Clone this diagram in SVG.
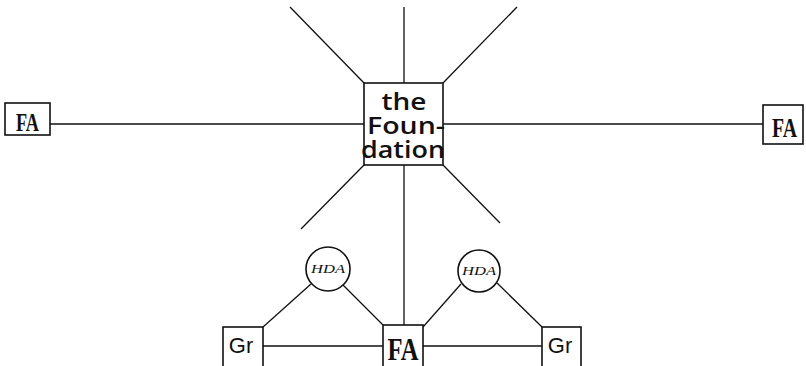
<svg xmlns="http://www.w3.org/2000/svg" width="806" height="366" viewBox="0 0 806 366">
<style>
.ln{stroke:#111;stroke-width:1.3;fill:none}
.bx{stroke:#111;stroke-width:1.6;fill:#fff}
.fa{font-family:"Liberation Serif",serif;font-weight:bold;fill:#111;text-anchor:middle}
.fd{font-family:"Open Sans","Liberation Sans",sans-serif;font-weight:600;font-size:23px;fill:#111;text-anchor:middle}
.gr{font-family:"Liberation Sans",sans-serif;font-size:22px;fill:#111;text-anchor:middle}
.hda{font-family:"Liberation Serif",serif;font-style:italic;font-size:12px;fill:#111;text-anchor:middle}
</style>
<rect width="806" height="366" fill="#fff"/>
<g id="connectors">
<line class="ln" x1="290" y1="7" x2="364" y2="83"/>
<line class="ln" x1="404" y1="7" x2="404" y2="83"/>
<line class="ln" x1="517" y1="7" x2="443" y2="83"/>
<line class="ln" x1="364" y1="165" x2="301" y2="229"/>
<line class="ln" x1="443" y1="165" x2="500" y2="223"/>
<line class="ln" x1="404" y1="165" x2="404" y2="325"/>
<line class="ln" x1="50" y1="124" x2="364" y2="124"/>
<line class="ln" x1="443" y1="124" x2="763" y2="124"/>
<line class="ln" x1="263" y1="327" x2="311" y2="284"/>
<line class="ln" x1="343" y1="285" x2="383" y2="325"/>
<line class="ln" x1="263" y1="346" x2="383" y2="346"/>
<line class="ln" x1="423" y1="327" x2="461" y2="284"/>
<line class="ln" x1="497" y1="283" x2="542" y2="327"/>
<line class="ln" x1="423" y1="346" x2="542" y2="346"/>
</g>
<g id="foundation">
<rect class="bx" x="364" y="83" width="79" height="82"/>
<text class="fd" x="404" y="110" textLength="45" lengthAdjust="spacingAndGlyphs">the</text>
<text class="fd" x="406" y="134" textLength="78" lengthAdjust="spacingAndGlyphs">Foun-</text>
<text class="fd" x="403" y="158" textLength="84" lengthAdjust="spacingAndGlyphs">dation</text>
</g>
<g id="fa-left">
<rect class="bx" x="5" y="103" width="45" height="32"/>
<text class="fa" x="27.5" y="131" font-size="25" textLength="23" lengthAdjust="spacingAndGlyphs">FA</text>
</g>
<g id="fa-right">
<rect class="bx" x="763" y="105" width="40" height="39"/>
<text class="fa" x="784.5" y="137" font-size="28" textLength="25" lengthAdjust="spacingAndGlyphs">FA</text>
</g>
<g id="fa-center">
<rect class="bx" x="383" y="325" width="40" height="45"/>
<text class="fa" x="403" y="360" font-size="32" textLength="31" lengthAdjust="spacingAndGlyphs">FA</text>
</g>
<g id="hda-left">
<circle class="bx" cx="328" cy="269" r="22"/>
<text class="hda" x="328" y="273" textLength="34" lengthAdjust="spacingAndGlyphs">HDA</text>
</g>
<g id="hda-right">
<circle class="bx" cx="479" cy="271" r="21"/>
<text class="hda" x="479" y="275" textLength="34" lengthAdjust="spacingAndGlyphs">HDA</text>
</g>
<g id="gr-left">
<rect class="bx" x="223" y="327" width="40" height="43"/>
<text class="gr" x="241" y="353">Gr</text>
</g>
<g id="gr-right">
<rect class="bx" x="542" y="327" width="39" height="43"/>
<text class="gr" x="560" y="353">Gr</text>
</g>
</svg>
